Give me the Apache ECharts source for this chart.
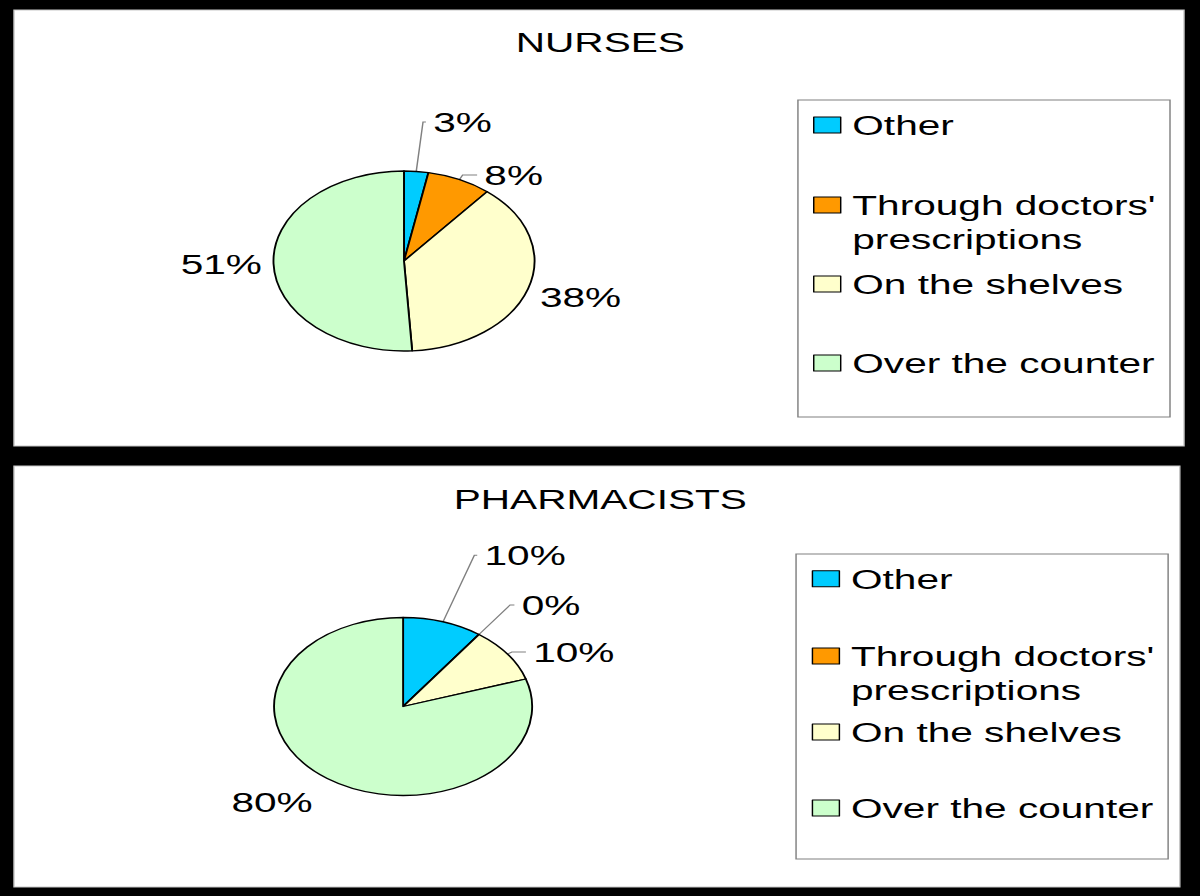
<!DOCTYPE html>
<html>
<head>
<meta charset="utf-8">
<script src="https://cdn.jsdelivr.net/npm/echarts@6/dist/echarts.min.js"></script>
<style>
html,body{margin:0;padding:0;background:#000;overflow:hidden;}
#c{width:827.586px;height:896px;transform:scaleX(1.45);transform-origin:0 0;}
</style>
</head>
<body>
<div id="c"></div>
<script>
// ---- data ----
var categories = ['Other', "Through doctors' prescriptions", 'On the shelves', 'Over the counter'];
var nursesValues = [3, 8, 38, 51];
var pharmacistsValues = [10, 0, 10, 80];
var panelTitles = ['NURSES', 'PHARMACISTS'];
var colors = ['#00CCFF', '#FF9900', '#FFFFCC', '#CCFFCC'];

// ---- layout (unscaled; the page is stretched horizontally by 1.45) ----
var FONT = 'Liberation Sans, Arial, sans-serif';
var nursesLines = [
  {length: 49.6, length2: 2, show: true},
  {length: 5, length2: 10, show: true},
  {length: 26.5, length2: -22, show: false},
  {length: 3, length2: 0, show: false}
];
var pharmLines = [
  {length: 70, length2: 2, show: true},
  {length: 36.5, length2: 3, show: true},
  {length: 3.7, length2: 9.7, show: true},
  {length: 29, length2: -12, show: false}
];
var legendIconCenters = [[125, 205, 284, 363], [578.7, 656, 732, 808]];
var legendLefts = [560.7, 559.8];

function buildData(values, lines) {
  return categories.map(function (name, i) {
    return {
      name: name,
      value: values[i],
      itemStyle: {color: colors[i]},
      labelLine: lines[i]
    };
  });
}

function pieSeries(name, values, lines, center, r) {
  return {
    type: 'pie',
    name: name,
    center: center,
    radius: r,
    startAngle: 90,
    clockwise: true,
    avoidLabelOverlap: false,
    animation: false,
    silent: true,
    itemStyle: {borderColor: '#000', borderWidth: 1.3},
    label: {
      show: true,
      position: 'outside',
      formatter: '{c}%',
      fontFamily: FONT,
      fontSize: 28,
      color: '#000',
      distanceToLabelLine: 5
    },
    labelLine: {lineStyle: {color: '#808080', width: 1}, smooth: false},
    emphasis: {disabled: true},
    data: buildData(values, lines)
  };
}

var legends = [];
[0, 1].forEach(function (p) {
  categories.forEach(function (name, i) {
    var two = (i === 1);
    legends.push({
      left: legendLefts[p],
      top: legendIconCenters[p][i] - (two ? 51 : 17),
      orient: 'vertical',
      padding: 0,
      icon: 'rect',
      itemWidth: 18.6,
      itemHeight: 16,
      selectedMode: false,
      data: [name],
      itemStyle: {borderColor: '#000', borderWidth: 1},
      formatter: function (n) {
        return n.indexOf(' prescriptions') >= 0 ? '\n' + n.replace(' prescriptions', '\nprescriptions') : n;
      },
      textStyle: {
        fontFamily: FONT,
        fontSize: 28,
        lineHeight: 34,
        color: '#000',
        padding: [0, 0, 0, 3]
      }
    });
  });
});

var option = {
  backgroundColor: '#000',
  animation: false,
  title: [
    {text: panelTitles[0], left: 'center', top: 28, padding: 0,
     textStyle: {fontFamily: FONT, fontSize: 28, fontWeight: 'normal', color: '#000'}},
    {text: panelTitles[1], left: 'center', top: 485, padding: 0,
     textStyle: {fontFamily: FONT, fontSize: 28, fontWeight: 'normal', color: '#000'}}
  ],
  graphic: [
    {type: 'rect', z: -10, silent: true, shape: {x: 9.66, y: 10, width: 806.9, height: 436},
     style: {fill: '#fff', stroke: '#c8c8c8', lineWidth: 1}},
    {type: 'rect', z: -10, silent: true, shape: {x: 9.66, y: 466, width: 804, height: 421},
     style: {fill: '#fff', stroke: '#c8c8c8', lineWidth: 1}},
    {type: 'rect', z: -9, silent: true, shape: {x: 550.3, y: 100, width: 256.6, height: 317},
     style: {fill: 'none', stroke: '#808080', lineWidth: 1}},
    {type: 'rect', z: -9, silent: true, shape: {x: 549, y: 554, width: 256.6, height: 305},
     style: {fill: 'none', stroke: '#808080', lineWidth: 1}}
  ],
  legend: legends,
  series: [
    pieSeries(panelTitles[0], nursesValues, nursesLines, [278.6, 261], 90),
    pieSeries(panelTitles[1], pharmacistsValues, pharmLines, [278, 706.5], 89)
  ]
};

var chart = echarts.init(document.getElementById('c'), null, {renderer: 'svg'});
chart.setOption(option);
</script>
</body>
</html>
